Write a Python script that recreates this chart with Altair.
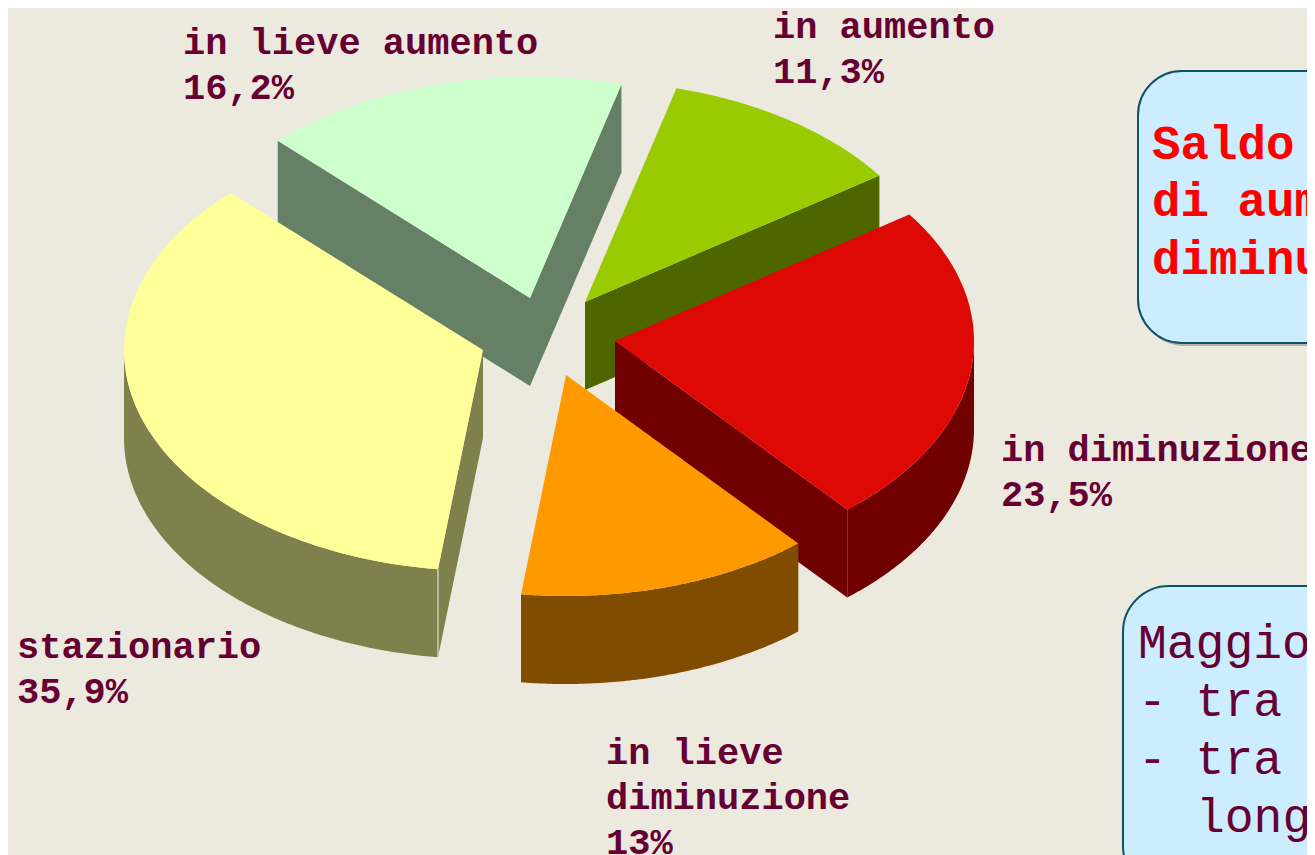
import math
import altair as alt
import pandas as pd

# ---- data (wedge sizes as drawn; the printed figures are in pie_labels)
categories = ["stazionario", "in lieve aumento", "in aumento", "in diminuzione", "in lieve diminuzione"]
shares = [35.6, 16.5, 11.2, 23.5, 13.2]

pie_labels = [
    ["stazionario", "35,9%"],
    ["in lieve aumento", "16,2%"],
    ["in aumento", "11,3%"],
    ["in diminuzione", "23,5%"],
    ["in lieve", "diminuzione", "13%"],
]
box_top_lines = ["Saldo", "di aum", "diminu"]
box_bottom_lines = ["Maggior", "- tra i", "- tra i"]
box_bottom_indented = ["longe"]

# ---- layout and style
START_ANGLE = 97.2
A, B, DEPTH = 359.0, 221.0, 88.0
apexes = {
    "stazionario": (483, 350),
    "in lieve aumento": (530, 298),
    "in aumento": (585, 302),
    "in diminuzione": (615, 341),
    "in lieve diminuzione": (566, 375),
}
top_colors = {
    "stazionario": "#FFFF99",
    "in lieve aumento": "#CCFFCC",
    "in aumento": "#99CC00",
    "in diminuzione": "#DE0804",
    "in lieve diminuzione": "#FF9900",
}
side_colors = {
    "stazionario": "#80804C",
    "in lieve aumento": "#668066",
    "in aumento": "#4D6600",
    "in diminuzione": "#700000",
    "in lieve diminuzione": "#804C00",
}
label_pos = {
    "stazionario": (17, 658),
    "in lieve aumento": (183, 54),
    "in aumento": (773, 38),
    "in diminuzione": (1001, 461),
    "in lieve diminuzione": (606, 764),
}
BG = "#ECE9DF"
LABEL = "#660033"

X = alt.X("x:Q", scale=alt.Scale(domain=[8, 1307], nice=False, zero=False), axis=None)
Y = alt.Y("y:Q", scale=alt.Scale(domain=[855, 8], nice=False, zero=False), axis=None)

# wedge angle ranges from the shares
ranges = {}
a0 = START_ANGLE
total = sum(shares)
for c, s in zip(categories, shares):
    a1 = a0 + s / total * 360
    ranges[c] = (a0, a1)
    a0 = a1


def rim(cat, t):
    ax, ay = apexes[cat]
    r = math.radians(t)
    return ax + A * math.cos(r), ay + B * math.sin(r)


def arc_points(cat, t0, t1, n=90):
    return [rim(cat, t0 + (t1 - t0) * i / n) for i in range(n + 1)]


def side(cat, pts):
    df = pd.DataFrame(pts, columns=["x", "y"])
    df["y2"] = df["y"] + DEPTH
    return (
        alt.Chart(df)
        .mark_area(color=side_colors[cat])
        .encode(x=X, y=Y, y2="y2:Q")
    )


def top(cat):
    t0, t1 = ranges[cat]
    poly = [apexes[cat]] + arc_points(cat, t0, t1)
    edges = list(zip(poly, poly[1:] + poly[:1]))
    rows = []
    for x in sorted({p[0] for p in poly}):
        ys = []
        for (x0, y0), (x1, y1) in edges:
            if min(x0, x1) <= x <= max(x0, x1):
                if x0 == x1:
                    ys += [y0, y1]
                else:
                    ys.append(y0 + (y1 - y0) * (x - x0) / (x1 - x0))
        rows.append((x, min(ys), max(ys)))
    df = pd.DataFrame(rows, columns=["x", "y", "y2"])
    return alt.Chart(df).mark_area(color=top_colors[cat]).encode(x=X, y=Y, y2="y2:Q")


def radial(cat, t):
    return [apexes[cat], rim(cat, t)]


def edge(cat, t, color):
    px, py = rim(cat, t)
    df = pd.DataFrame([{"x": px, "y": py, "y2": py + DEPTH}])
    return (
        alt.Chart(df)
        .mark_rule(color=color, strokeWidth=1)
        .encode(x=X, y=Y, y2="y2:Q")
    )


layers = []

# in aumento (back)
c = "in aumento"
layers += [side(c, radial(c, ranges[c][1])), top(c)]
# in diminuzione
c = "in diminuzione"
layers += [
    side(c, radial(c, ranges[c][1] - 360)),
    side(c, arc_points(c, 0, ranges[c][1] - 360)),
    top(c),
]
# in lieve aumento
c = "in lieve aumento"
layers += [
    side(c, radial(c, ranges[c][0])),
    side(c, radial(c, ranges[c][1])),
    top(c),
]
# stazionario
c = "stazionario"
layers += [
    side(c, radial(c, ranges[c][0])),
    side(c, arc_points(c, ranges[c][0], 180)),
    edge(c, ranges[c][0], "#F2F2E0"),
    top(c),
]
# in lieve diminuzione (front)
c = "in lieve diminuzione"
layers += [side(c, arc_points(c, *ranges[c])), top(c)]


def box(x, y, y2, radius):
    df = pd.DataFrame([{"x": x, "y": y, "x2": 1420, "y2": y2}])
    df2 = pd.DataFrame([{"x": x + 2, "y": y + 3, "x2": 1420, "y2": y2 + 3}])
    shadow = (
        alt.Chart(df2)
        .mark_rect(color="#B4B2AA", cornerRadius=radius)
        .encode(x=X, y=Y, x2="x2:Q", y2="y2:Q")
    )
    face = (
        alt.Chart(df)
        .mark_rect(fill="#CCECFF", stroke="#0B5168", strokeWidth=2, cornerRadius=radius)
        .encode(x=X, y=Y, x2="x2:Q", y2="y2:Q")
    )
    return [shadow, face]


layers += box(1138, 71, 343, 44)
layers += box(1123, 586, 892, 46)


def text_block(lines, x, y, step, size, color, weight):
    df = pd.DataFrame(
        [{"x": x, "y": y + i * step, "t": t} for i, t in enumerate(lines)]
    )
    return (
        alt.Chart(df)
        .mark_text(
            align="left",
            baseline="alphabetic",
            font="Liberation Mono",
            fontSize=size,
            fontWeight=weight,
            color=color,
        )
        .encode(x=X, y=Y, text="t:N")
    )


for c, lines in zip(categories, pie_labels):
    lx, ly = label_pos[c]
    layers.append(text_block(lines, lx, ly, 45, 37, LABEL, "bold"))

layers.append(text_block(box_top_lines, 1152, 159, 57.3, 47.5, "#FF0000", "bold"))
layers.append(text_block(box_bottom_lines, 1138, 658, 58, 48, LABEL, "normal"))
layers.append(text_block(box_bottom_indented, 1196, 832, 58, 48, LABEL, "normal"))

chart = (
    alt.layer(*layers)
    .properties(
        width=1299,
        height=847,
        background=BG,
        padding=0,
        autosize=alt.AutoSizeParams(type="none"),
    )
    .configure_view(stroke=None)
)

chart.save("out.html", embed_options={"renderer": "svg", "actions": False})
